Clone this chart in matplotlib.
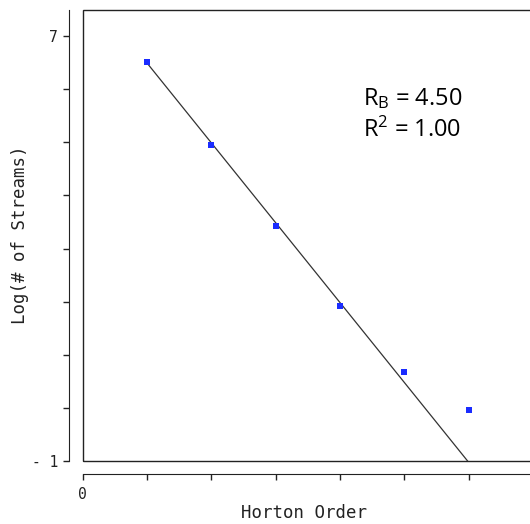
import numpy as np
import matplotlib.pyplot as plt
from matplotlib.patches import Rectangle

# Horton order vs log(number of streams)
order = [1, 2, 3, 4, 5, 6]
log_streams = [6.51, 4.94, 3.42, 1.92, 0.68, -0.04]

# fitted line: slope = -ln(Rb)
rb = 4.50
r2 = 1.00
intercept = 8.0

mono = 'DejaVu Sans Mono'
ink = '#222222'

fig = plt.figure(figsize=(5.30, 5.24), dpi=100)
ax = fig.add_axes([82.5 / 530, 1 - 461 / 524, (533 - 82.5) / 530, (461 - 10) / 524])

xs = np.array([1.0, 7.0])
ax.plot(xs, intercept - np.log(rb) * xs, color='#333333', lw=0.9, zorder=2)
ax.scatter(order, log_streams, marker='s', s=14, color='#1a2cff', zorder=3, linewidths=0)

ax.set_xlim(0, 7)
ax.set_ylim(-1, 7.49)

# box around the plotting area
ax.add_patch(Rectangle((0, 0), 1, 1, transform=ax.transAxes, fill=False,
                       ec=ink, lw=1.0, clip_on=False, zorder=4))

for s in ['top', 'right']:
    ax.spines[s].set_visible(False)
ax.spines['left'].set_position(('outward', 10))
ax.spines['bottom'].set_position(('outward', 9))
ax.spines['left'].set_color(ink)
ax.spines['bottom'].set_color(ink)

ax.set_yticks(range(-1, 8))
ax.set_yticklabels(['- 1'] + [''] * 7 + ['7'])
ax.set_xticks(range(0, 8))
ax.set_xticklabels(['0'] + [''] * 6 + ['7'])
ax.tick_params(axis='both', direction='out', length=4.5, width=1.0, color=ink,
               labelcolor=ink, labelsize=10.5)
ax.tick_params(axis='y', pad=3)
ax.tick_params(axis='x', pad=5)
for lab in ax.get_xticklabels() + ax.get_yticklabels():
    lab.set_family(mono)

fig.text(304 / 530, 1 - 513 / 524, 'Horton Order', family=mono, fontsize=12.5,
         color=ink, ha='center', va='center')
fig.text(20 / 530, 1 - 235 / 524, 'Log(# of Streams)', family=mono, fontsize=12.5,
         color=ink, ha='center', va='center', rotation=90)

ax.text(0.622, 0.789, r'$\mathregular{R_B}$ = %.2f' % rb, transform=ax.transAxes,
        family='Open Sans', fontsize=17, color='black')
ax.text(0.622, 0.718, r'$\mathregular{R^2}$ = %.2f' % r2, transform=ax.transAxes,
        family='Open Sans', fontsize=17, color='black')

fig.savefig('out.png', dpi=100)
